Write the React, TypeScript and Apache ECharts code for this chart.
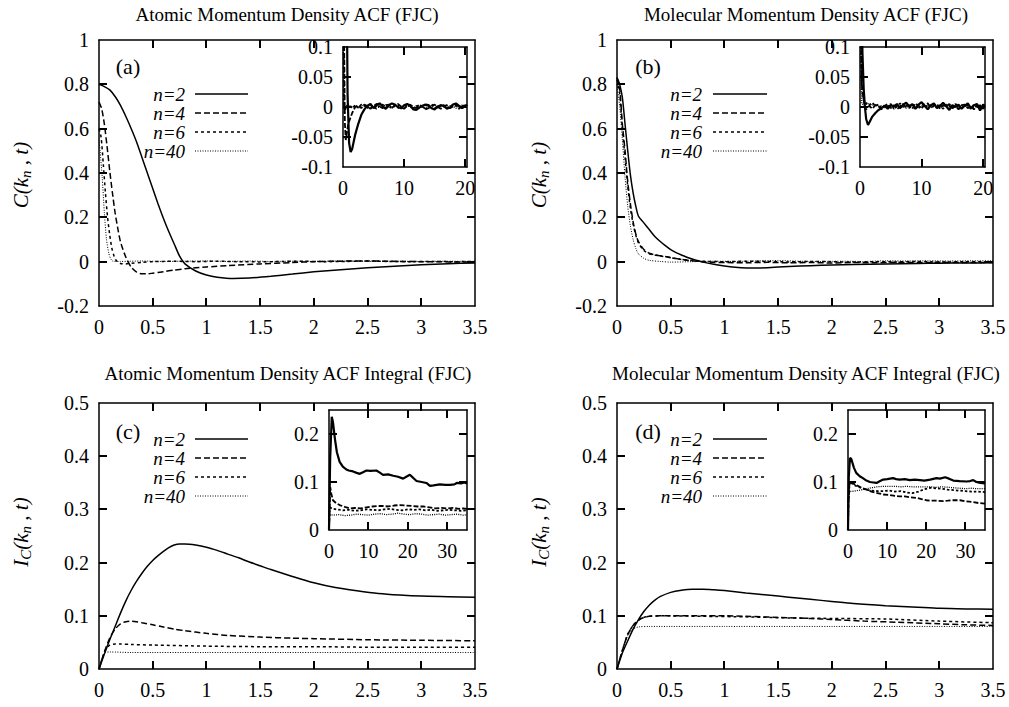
import React, { useEffect, useRef } from "react";
import * as echarts from "echarts";

type P = [number, number][];

// ---------- Panel (a): atomic ACF ----------
const A_MAIN_N2: P = [[0,0.8],[0.05,0.79],[0.1,0.775],[0.15,0.745],[0.2,0.705],[0.25,0.655],[0.3,0.6],[0.35,0.54],[0.4,0.47],[0.45,0.4],[0.5,0.33],[0.55,0.26],[0.6,0.195],[0.65,0.135],[0.7,0.08],[0.75,0.025],[0.8,-0.01],[0.9,-0.042],[1.0,-0.06],[1.1,-0.07],[1.25,-0.076],[1.4,-0.074],[1.6,-0.066],[1.8,-0.056],[2.0,-0.046],[2.25,-0.036],[2.5,-0.028],[2.75,-0.021],[3.0,-0.014],[3.25,-0.009],[3.5,-0.006]];
const A_MAIN_N4: P = [[0,0.72],[0.025,0.69],[0.05,0.62],[0.075,0.52],[0.1,0.41],[0.125,0.31],[0.15,0.22],[0.175,0.15],[0.2,0.09],[0.25,0.02],[0.3,-0.025],[0.35,-0.047],[0.4,-0.055],[0.45,-0.055],[0.5,-0.052],[0.6,-0.045],[0.7,-0.038],[0.8,-0.032],[1.0,-0.024],[1.2,-0.018],[1.5,-0.01],[1.8,-0.004],[2.0,0.0],[2.2,0.002],[2.5,0.003],[2.8,0.001],[3.0,0.0],[3.25,-0.001],[3.5,-0.002]];
const A_MAIN_N6: P = [[0,0.6],[0.02,0.56],[0.04,0.44],[0.06,0.31],[0.08,0.2],[0.1,0.12],[0.12,0.06],[0.14,0.025],[0.16,0.005],[0.2,-0.008],[0.25,-0.01],[0.3,-0.007],[0.4,-0.003],[0.5,0],[0.7,0.002],[0.9,0],[1.1,0.002],[1.3,0],[1.5,-0.001],[1.7,0.001],[1.9,0.002],[2.1,0],[2.3,0.001],[2.5,0.003],[2.7,0.001],[2.9,0],[3.1,0.001],[3.3,0],[3.5,0.001]];
const A_MAIN_N40: P = [[0,0.55],[0.01,0.5],[0.03,0.38],[0.05,0.22],[0.07,0.1],[0.09,0.04],[0.11,0.012],[0.13,0.002],[0.2,0.001],[0.4,0.003],[0.6,0.001],[0.8,0.002],[1,0.003],[1.2,0.001],[1.4,0.003],[1.6,0.001],[1.8,0.002],[2,0.001],[2.2,0.003],[2.4,0.002],[2.6,0.001],[2.8,0.002],[3,0.001],[3.2,0.002],[3.5,0.001]];

const A_IN_N2: P = [[0,0.8],[0.25,0.62],[0.5,0.33],[0.75,0.02],[1,-0.06],[1.25,-0.075],[1.5,-0.07],[2,-0.046],[2.5,-0.028],[3,-0.013],[3.5,-0.004],[4,0.002],[4.5,0.005],[5,-0.002],[5.5,0.004],[6,0.006],[6.5,0.001],[7,-0.003],[7.5,0.003],[8,0.006],[8.5,0.004],[9,0],[9.5,-0.002],[10,0.003],[10.5,0.005],[11,0.002],[11.5,-0.004],[12,-0.005],[12.5,-0.001],[13,0.002],[13.5,0.004],[14,0.003],[14.5,-0.002],[15,-0.004],[15.5,0.001],[16,0.003],[16.5,0.002],[17,-0.003],[17.5,-0.001],[18,0.004],[18.5,0.006],[19,0.002],[19.5,-0.002],[20,0.003],[20.3,0.001]];
const A_IN_N4: P = [[0,0.72],[0.1,0.41],[0.2,0.09],[0.3,-0.025],[0.45,-0.055],[0.6,-0.045],[0.8,-0.032],[1,-0.024],[1.5,-0.01],[2,0],[2.5,0.003],[3,-0.002],[3.5,0.004],[4,0.001],[4.5,-0.003],[5,0.002],[5.5,0.005],[6,0.001],[6.5,-0.002],[7,0.003],[7.5,0.004],[8,-0.001],[8.5,0.002],[9,0.005],[9.5,0.001],[10,-0.003],[10.5,0.002],[11,0.004],[11.5,0],[12,-0.002],[12.5,0.003],[13,0.001],[13.5,-0.004],[14,-0.002],[14.5,0.002],[15,0.004],[15.5,0],[16,-0.003],[16.5,0.001],[17,0.003],[17.5,-0.002],[18,0.001],[18.5,0.004],[19,0.001],[19.5,-0.002],[20,0.002],[20.3,0.003]];
const A_IN_N6: P = [[0,0.6],[0.06,0.3],[0.1,0.12],[0.16,0.005],[0.25,-0.01],[0.4,-0.003],[0.6,0.002],[1,0.004],[1.5,-0.002],[2,0.003],[2.5,-0.001],[3,0.004],[3.5,0.002],[4,-0.002],[4.5,0.003],[5,0],[5.5,-0.003],[6,0.002],[6.5,0.004],[7,0],[7.5,-0.002],[8,0.002],[8.5,0.003],[9,-0.001],[9.5,-0.003],[10,0.001],[10.5,0.004],[11,0.002],[11.5,-0.002],[12,0.001],[12.5,0.003],[13,0],[13.5,-0.003],[14,0.002],[14.5,0.004],[15,0.001],[15.5,-0.002],[16,0.002],[16.5,0.003],[17,-0.002],[17.5,0],[18,0.003],[18.5,0.002],[19,-0.003],[19.5,0.001],[20,0.004],[20.3,0.002]];
const A_IN_N40: P = [[0,0.55],[0.05,0.22],[0.09,0.04],[0.13,0],[0.3,0.002],[0.6,-0.001],[1,0.002],[1.5,0],[2,0.001],[2.5,-0.002],[3,0.002],[3.5,0.003],[4,0],[4.5,-0.002],[5,0.002],[5.5,0.001],[6,-0.001],[6.5,0.002],[7,0.003],[7.5,0],[8,-0.002],[8.5,0.001],[9,0.003],[9.5,0.001],[10,-0.001],[10.5,0.002],[11,0],[11.5,-0.002],[12,0.002],[12.5,0.003],[13,0],[13.5,-0.001],[14,0.002],[14.5,0.001],[15,-0.002],[15.5,0.001],[16,0.003],[16.5,0],[17,-0.001],[17.5,0.002],[18,0.001],[18.5,-0.002],[19,0.001],[19.5,0.003],[20,0],[20.3,0.001]];

// ---------- Panel (b): molecular ACF ----------
const B_MAIN_N2: P = [[0,0.83],[0.025,0.8],[0.05,0.74],[0.075,0.62],[0.1,0.5],[0.125,0.39],[0.15,0.31],[0.175,0.25],[0.2,0.205],[0.25,0.175],[0.3,0.145],[0.35,0.115],[0.4,0.092],[0.45,0.072],[0.5,0.054],[0.55,0.041],[0.6,0.03],[0.65,0.02],[0.7,0.012],[0.75,0.005],[0.8,-0.002],[0.9,-0.012],[1.0,-0.02],[1.1,-0.025],[1.28,-0.029],[1.4,-0.027],[1.6,-0.022],[1.8,-0.018],[2.0,-0.015],[2.2,-0.013],[2.5,-0.01],[2.8,-0.008],[3.0,-0.007],[3.25,-0.006],[3.5,-0.005]];
const B_MAIN_N4: P = [[0,0.83],[0.025,0.78],[0.05,0.62],[0.075,0.5],[0.1,0.36],[0.125,0.26],[0.15,0.18],[0.175,0.125],[0.2,0.09],[0.25,0.055],[0.3,0.038],[0.35,0.031],[0.4,0.027],[0.45,0.023],[0.5,0.018],[0.6,0.01],[0.7,0.004],[0.8,0],[0.9,-0.003],[1.0,-0.004],[1.2,-0.005],[1.4,-0.003],[1.6,-0.005],[1.8,-0.004],[2.0,-0.006],[2.2,-0.004],[2.4,-0.005],[2.6,-0.003],[2.8,-0.004],[3.0,-0.003],[3.2,-0.004],[3.5,-0.004]];
const B_MAIN_N6: P = [[0,0.82],[0.025,0.76],[0.05,0.6],[0.075,0.47],[0.1,0.34],[0.125,0.24],[0.15,0.17],[0.175,0.12],[0.2,0.085],[0.25,0.05],[0.3,0.036],[0.35,0.03],[0.4,0.026],[0.5,0.018],[0.6,0.01],[0.8,0.002],[1.0,0.0],[1.2,0.002],[1.4,0.001],[1.6,-0.001],[1.8,0.001],[2.0,0.0],[2.2,-0.002],[2.4,0.0],[2.6,-0.001],[2.8,0.001],[3.0,-0.002],[3.2,0.0],[3.5,-0.001]];
const B_MAIN_N40: P = [[0,0.8],[0.025,0.7],[0.05,0.55],[0.075,0.38],[0.1,0.25],[0.125,0.16],[0.15,0.1],[0.175,0.06],[0.2,0.035],[0.25,0.015],[0.3,0.006],[0.4,0.001],[0.5,-0.002],[0.7,0.0],[0.9,0.002],[1.1,0.001],[1.3,0.003],[1.5,0.005],[1.7,0.002],[1.9,0.001],[2.1,0.002],[2.3,0.001],[2.5,0.004],[2.7,0.003],[2.9,0.004],[3.1,0.003],[3.3,0.004],[3.5,0.004]];

const B_IN_N2: P = [[0,0.83],[0.2,0.2],[0.4,0.09],[0.6,0.03],[0.8,0.0],[1,-0.02],[1.3,-0.03],[1.6,-0.024],[2,-0.016],[2.5,-0.01],[3,-0.005],[3.5,-0.002],[4,0.002],[4.5,-0.003],[5,0.003],[5.5,0.001],[6,0.005],[6.5,-0.002],[7,0.004],[7.5,0.007],[8,0.001],[8.5,0.005],[9,-0.003],[9.5,0.004],[10,0.008],[10.5,0.002],[11,-0.004],[11.5,0.003],[12,0.006],[12.5,-0.002],[13,0.002],[13.5,0.007],[14,0.001],[14.5,-0.005],[15,0.003],[15.5,0],[16,0.004],[16.5,-0.003],[17,0.002],[17.5,0.006],[18,-0.002],[18.5,0.003],[19,0.005],[19.5,-0.006],[20,0.004],[20.3,0.002]];
const B_IN_N4: P = [[0,0.83],[0.1,0.36],[0.2,0.09],[0.3,0.038],[0.5,0.018],[0.8,0],[1,-0.004],[1.5,0.002],[2,-0.003],[2.5,0.003],[3,0.001],[3.5,-0.004],[4,0.002],[4.5,0.005],[5,-0.002],[5.5,0.003],[6,-0.004],[6.5,0.001],[7,0.005],[7.5,-0.001],[8,0.003],[8.5,-0.003],[9,0.006],[9.5,0.002],[10,-0.002],[10.5,0.004],[11,0.006],[11.5,-0.001],[12,0.002],[12.5,0.005],[13,-0.003],[13.5,0.003],[14,0.001],[14.5,0.005],[15,-0.002],[15.5,0.002],[16,-0.004],[16.5,0.003],[17,0.004],[17.5,-0.002],[18,0.002],[18.5,-0.004],[19,0.003],[19.5,0.001],[20,-0.003],[20.3,0.002]];
const B_IN_N6: P = [[0,0.82],[0.1,0.34],[0.2,0.085],[0.3,0.036],[0.5,0.018],[0.8,0.004],[1,0.006],[1.5,0.003],[2,0.007],[2.5,0.002],[3,0.004],[3.5,-0.002],[4,0.003],[4.5,0.001],[5,0.005],[5.5,-0.003],[6,0.002],[6.5,0.006],[7,0],[7.5,0.003],[8,-0.002],[8.5,0.004],[9,0.002],[9.5,-0.003],[10,0.003],[10.5,0.005],[11,-0.002],[11.5,0.002],[12,0.004],[12.5,-0.001],[13,0.003],[13.5,-0.003],[14,0.004],[14.5,0.002],[15,-0.002],[15.5,0.005],[16,0.001],[16.5,-0.002],[17,0.003],[17.5,0.002],[18,-0.003],[18.5,0.004],[19,0],[19.5,0.003],[20,-0.002],[20.3,0.001]];
const B_IN_N40: P = [[0,0.8],[0.1,0.25],[0.2,0.035],[0.3,0.006],[0.5,0.004],[1,0.007],[1.5,0.005],[2,0.003],[2.5,0.004],[3,0.001],[3.5,0.002],[4,-0.001],[4.5,0.002],[5,0],[5.5,0.003],[6,-0.001],[6.5,0.001],[7,0.002],[7.5,-0.002],[8,0.001],[8.5,0.003],[9,0],[9.5,-0.001],[10,0.002],[10.5,0],[11,0.003],[11.5,-0.001],[12,0.001],[12.5,0.002],[13,-0.002],[13.5,0.001],[14,0.002],[14.5,0],[15,-0.001],[15.5,0.002],[16,0.001],[16.5,-0.002],[17,0.001],[17.5,0.003],[18,0],[18.5,-0.001],[19,0.002],[19.5,0.001],[20,-0.001],[20.3,0.002]];

// ---------- Panel (c): atomic ACF integral ----------
const C_MAIN_N2: P = [[0,0],[0.05,0.028],[0.1,0.055],[0.15,0.08],[0.2,0.105],[0.25,0.128],[0.3,0.148],[0.35,0.165],[0.4,0.18],[0.45,0.193],[0.5,0.204],[0.55,0.213],[0.6,0.221],[0.65,0.228],[0.7,0.233],[0.75,0.235],[0.8,0.235],[0.9,0.233],[1.0,0.229],[1.1,0.223],[1.2,0.216],[1.3,0.209],[1.4,0.201],[1.5,0.194],[1.6,0.187],[1.8,0.174],[2.0,0.162],[2.2,0.153],[2.4,0.147],[2.6,0.142],[2.8,0.139],[3.0,0.137],[3.25,0.136],[3.5,0.135]];
const C_MAIN_N4: P = [[0,0],[0.05,0.032],[0.1,0.058],[0.15,0.075],[0.2,0.085],[0.25,0.089],[0.3,0.09],[0.35,0.089],[0.4,0.087],[0.5,0.083],[0.6,0.079],[0.7,0.075],[0.8,0.072],[1.0,0.067],[1.2,0.063],[1.5,0.06],[1.8,0.058],[2.0,0.057],[2.5,0.055],[3.0,0.054],[3.5,0.053]];
const C_MAIN_N6: P = [[0,0],[0.03,0.02],[0.06,0.036],[0.1,0.045],[0.15,0.047],[0.2,0.047],[0.3,0.046],[0.5,0.045],[1.0,0.043],[1.5,0.042],[2.0,0.042],[2.5,0.041],[3.0,0.041],[3.5,0.041]];
const C_MAIN_N40: P = [[0,0],[0.02,0.015],[0.04,0.026],[0.06,0.031],[0.1,0.032],[0.3,0.031],[1,0.031],[2,0.031],[3.5,0.031]];

const C_IN_N2: P = [[0,0],[0.3,0.15],[0.7,0.236],[1,0.225],[1.5,0.19],[2,0.162],[2.7,0.142],[3.5,0.132],[4.4,0.126],[5,0.124],[6.1,0.122],[7,0.119],[7.8,0.117],[8.5,0.12],[9.5,0.124],[10.5,0.123],[12,0.124],[12.8,0.12],[13.7,0.115],[15,0.116],[16.3,0.113],[17.5,0.111],[18.8,0.107],[19.6,0.111],[20.5,0.115],[21.3,0.109],[22.2,0.102],[23.5,0.1],[24.7,0.098],[25.6,0.092],[26.5,0.093],[28.1,0.095],[29.5,0.094],[30.7,0.094],[31.8,0.095],[32.4,0.098],[33.5,0.097],[34.3,0.099],[35,0.097]];
const C_IN_N4: P = [[0,0],[0.3,0.09],[0.6,0.075],[1,0.062],[1.8,0.056],[2.7,0.052],[4,0.048],[5.3,0.045],[6.5,0.046],[8,0.045],[9.5,0.047],[11,0.049],[12.5,0.05],[13.7,0.05],[15,0.049],[16.5,0.051],[18,0.052],[19.5,0.051],[21,0.05],[22.5,0.049],[24,0.049],[25.5,0.047],[27,0.045],[28.5,0.046],[30,0.045],[31.5,0.046],[33,0.044],[34,0.045],[35,0.044]];
const C_IN_N6: P = [[0,0],[0.15,0.047],[1,0.044],[2,0.043],[3.5,0.041],[5,0.042],[6.5,0.04],[8,0.041],[9.5,0.043],[11,0.042],[12.5,0.041],[14,0.043],[15.5,0.044],[17,0.042],[18.5,0.041],[20,0.043],[21.5,0.042],[23,0.043],[24.5,0.041],[26,0.042],[27.5,0.04],[29,0.041],[30.5,0.042],[32,0.041],[33.5,0.04],[35,0.041]];
const C_IN_N40: P = [[0,0],[0.1,0.032],[1,0.031],[2.5,0.032],[4,0.03],[5.5,0.031],[7,0.033],[8.5,0.032],[10,0.031],[11.5,0.033],[13,0.034],[14.5,0.032],[16,0.033],[17.5,0.035],[19,0.033],[20.5,0.032],[22,0.034],[23.5,0.033],[25,0.031],[26.5,0.032],[28,0.033],[29.5,0.031],[31,0.032],[32.5,0.033],[34,0.031],[35,0.032]];

// ---------- Panel (d): molecular ACF integral ----------
const D_MAIN_N2: P = [[0,0],[0.05,0.03],[0.1,0.053],[0.15,0.075],[0.2,0.093],[0.25,0.108],[0.3,0.12],[0.35,0.129],[0.4,0.136],[0.5,0.144],[0.6,0.148],[0.7,0.15],[0.8,0.15],[0.9,0.149],[1.0,0.1475],[1.2,0.143],[1.4,0.139],[1.6,0.135],[1.8,0.131],[2.0,0.127],[2.2,0.123],[2.5,0.119],[2.8,0.116],[3.0,0.114],[3.25,0.113],[3.5,0.1125]];
const D_MAIN_N4: P = [[0,0],[0.05,0.035],[0.1,0.065],[0.15,0.082],[0.2,0.092],[0.25,0.097],[0.3,0.099],[0.4,0.1],[0.6,0.1],[0.8,0.1],[1.0,0.1],[1.2,0.099],[1.5,0.097],[1.8,0.095],[2.0,0.093],[2.3,0.09],[2.6,0.088],[3.0,0.085],[3.25,0.083],[3.5,0.082]];
const D_MAIN_N6: P = [[0,0],[0.05,0.035],[0.1,0.065],[0.15,0.082],[0.2,0.092],[0.25,0.097],[0.3,0.099],[0.4,0.1],[0.8,0.099],[1.2,0.098],[1.6,0.096],[2.0,0.095],[2.5,0.094],[3.0,0.09],[3.5,0.087]];
const D_MAIN_N40: P = [[0,0],[0.05,0.035],[0.1,0.063],[0.15,0.075],[0.2,0.079],[0.3,0.08],[1,0.08],[2,0.08],[3,0.08],[3.5,0.08]];

const D_IN_N2: P = [[0,0],[0.2,0.11],[0.5,0.15],[0.85,0.148],[1.5,0.13],[2.1,0.119],[3,0.112],[3.8,0.108],[4.7,0.103],[5.6,0.1],[6.5,0.099],[7.3,0.098],[8.2,0.102],[9,0.105],[10,0.106],[11.5,0.108],[12.3,0.106],[13.2,0.105],[14.5,0.106],[15.8,0.104],[17,0.105],[18.4,0.104],[19.5,0.103],[21,0.105],[22.6,0.108],[23.5,0.107],[24.8,0.11],[25.8,0.107],[26.9,0.103],[28.5,0.102],[30.3,0.101],[31.2,0.102],[32,0.104],[32.8,0.1],[33.8,0.098],[35,0.097]];
const D_IN_N4: P = [[0,0],[0.1,0.06],[0.4,0.1],[1.5,0.096],[3,0.09],[4.7,0.084],[6,0.08],[7.5,0.077],[9,0.074],[10.5,0.073],[12,0.071],[13.2,0.07],[14.5,0.07],[16,0.068],[17.5,0.067],[19,0.064],[20,0.062],[21,0.061],[22.5,0.061],[24.4,0.06],[25.5,0.061],[26.5,0.062],[28.6,0.062],[30,0.06],[31,0.059],[32,0.058],[33.5,0.056],[35,0.055]];
const D_IN_N6: P = [[0,0],[0.1,0.06],[0.4,0.1],[2,0.092],[3.5,0.087],[4.7,0.084],[6,0.082],[7.5,0.081],[9,0.081],[10.5,0.082],[12,0.08],[13.5,0.081],[15,0.078],[16.5,0.077],[18,0.08],[19.5,0.085],[21,0.088],[22.5,0.087],[24,0.086],[25.5,0.084],[27,0.083],[28.5,0.082],[30,0.081],[31.5,0.08],[33,0.08],[35,0.079]];
const D_IN_N40: P = [[0,0],[0.1,0.06],[0.3,0.08],[1.5,0.081],[3,0.083],[4.7,0.086],[6,0.088],[7.5,0.09],[9,0.091],[10.5,0.091],[12,0.091],[13.5,0.09],[15,0.091],[16.5,0.09],[18,0.09],[19.5,0.09],[21,0.09],[22.5,0.089],[24,0.09],[25.5,0.089],[27,0.088],[28.5,0.087],[30,0.086],[31.5,0.087],[33,0.086],[35,0.086]];

// ---------- labels ----------
const SERIES_NAMES = ["n=2", "n=4", "n=6", "n=40"];
const TITLES = [
  "Atomic Momentum Density ACF (FJC)",
  "Molecular Momentum Density ACF (FJC)",
  "Atomic Momentum Density ACF Integral (FJC)",
  "Molecular Momentum Density ACF Integral (FJC)",
];
const PANEL_TAGS = ["(a)", "(b)", "(c)", "(d)"];

// axis ranges: [min, max, interval]
const ACF_MAIN_X = [0, 3.5, 0.5];
const ACF_MAIN_Y = [-0.2, 1, 0.2];
const ACF_IN_X = [0, 20.3, 10];
const ACF_IN_Y = [-0.1, 0.1, 0.05];
const INT_MAIN_X = [0, 3.5, 0.5];
const INT_MAIN_Y = [0, 0.5, 0.1];
const INT_IN_X = [0, 35, 10];
const INT_IN_Y = [0, 0.25, 0.1];

const FAMILY = "Liberation Serif";
const FF = "'Liberation Serif', 'Times New Roman', serif";
const TICK_LEN = 8;

type Rect = { left: number; top: number; width: number; height: number };

// layout
const PANELS = [
  { main: { left: 99, top: 40, width: 376, height: 266 }, inset: { left: 343, top: 47, width: 124, height: 120 },
    mx: ACF_MAIN_X, my: ACF_MAIN_Y, ix: ACF_IN_X, iy: ACF_IN_Y,
    mainData: [A_MAIN_N2, A_MAIN_N4, A_MAIN_N6, A_MAIN_N40], inData: [A_IN_N2, A_IN_N4, A_IN_N6, A_IN_N40],
    titleX: 287, titleY: 14, tagX: 128, tagY: 66, legX: 185, legL: 195, legR: 248, legY: 94,
    yTitleX: 21, yTitleY: 175, integral: false },
  { main: { left: 617, top: 40, width: 376, height: 266 }, inset: { left: 860, top: 47, width: 125, height: 120 },
    mx: ACF_MAIN_X, my: ACF_MAIN_Y, ix: ACF_IN_X, iy: ACF_IN_Y,
    mainData: [B_MAIN_N2, B_MAIN_N4, B_MAIN_N6, B_MAIN_N40], inData: [B_IN_N2, B_IN_N4, B_IN_N6, B_IN_N40],
    titleX: 806, titleY: 14, tagX: 648, tagY: 66, legX: 702, legL: 713, legR: 767, legY: 94,
    yTitleX: 539, yTitleY: 175, integral: false },
  { main: { left: 99, top: 403, width: 376, height: 266 }, inset: { left: 329, top: 410, width: 138, height: 120 },
    mx: INT_MAIN_X, my: INT_MAIN_Y, ix: INT_IN_X, iy: INT_IN_Y,
    mainData: [C_MAIN_N2, C_MAIN_N4, C_MAIN_N6, C_MAIN_N40], inData: [C_IN_N2, C_IN_N4, C_IN_N6, C_IN_N40],
    titleX: 288, titleY: 373, tagX: 128, tagY: 431, legX: 185, legL: 195, legR: 248, legY: 439,
    yTitleX: 21, yTitleY: 532, integral: true },
  { main: { left: 617, top: 403, width: 376, height: 266 }, inset: { left: 848, top: 410, width: 137, height: 120 },
    mx: INT_MAIN_X, my: INT_MAIN_Y, ix: INT_IN_X, iy: INT_IN_Y,
    mainData: [D_MAIN_N2, D_MAIN_N4, D_MAIN_N6, D_MAIN_N40], inData: [D_IN_N2, D_IN_N4, D_IN_N6, D_IN_N40],
    titleX: 806, titleY: 373, tagX: 648, tagY: 431, legX: 702, legL: 713, legR: 767, legY: 439,
    yTitleX: 539, yTitleY: 532, integral: true },
];

const MAIN_STYLES = [
  { width: 1.5, type: "solid" as any },
  { width: 1.5, type: [6, 3] as any },
  { width: 1.5, type: [3, 3] as any },
  { width: 1, type: [1, 1.5] as any },
];
const INSET_STYLES = [
  { width: 2.2, type: "solid" as any },
  { width: 1.8, type: [5, 2] as any },
  { width: 1.8, type: [2.5, 2] as any },
  { width: 1.3, type: [1, 1.2] as any },
];
const LEGEND_DASH: any[] = [null, [6, 3], [3, 3], [1, 1.5]];
const LEGEND_WIDTH = [1.5, 1.5, 1.5, 1];

function fmt(interval: number) {
  return (v: number) => {
    const r = v / interval;
    if (Math.abs(r - Math.round(r)) > 1e-6) return "";
    return String(parseFloat(v.toFixed(4)));
  };
}

function tickValues(r: number[]) {
  const out: number[] = [];
  const n = Math.floor((r[1] - r[0]) / r[2] + 1e-9);
  for (let k = 1; k <= n; k++) {
    const v = r[0] + k * r[2];
    if (v < r[1] - 1e-9) out.push(v);
  }
  return out;
}

// inward ticks on all four sides of a frame, positioned on the axis scale
function frameTicks(rect: Rect, xr: number[], yr: number[]) {
  const out: any[] = [];
  const st = { stroke: "#000", lineWidth: 2 };
  const x0 = rect.left, x1 = rect.left + rect.width, y0 = rect.top, y1 = rect.top + rect.height;
  const sx = (v: number) => x0 + ((v - xr[0]) / (xr[1] - xr[0])) * rect.width;
  const sy = (v: number) => y1 - ((v - yr[0]) / (yr[1] - yr[0])) * rect.height;
  tickValues(xr).forEach((v) => {
    const px = Math.round(sx(v));
    out.push({ type: "rect", z: 100, silent: true, shape: { x: px - 1, y: y1 - TICK_LEN, width: 2, height: TICK_LEN }, style: { fill: "#000" } });
    out.push({ type: "rect", z: 100, silent: true, shape: { x: px - 1, y: y0, width: 2, height: TICK_LEN }, style: { fill: "#000" } });
  });
  tickValues(yr).forEach((v) => {
    const py = Math.round(sy(v));
    out.push({ type: "rect", z: 100, silent: true, shape: { x: x0, y: py - 1, width: TICK_LEN, height: 2 }, style: { fill: "#000" } });
    out.push({ type: "rect", z: 100, silent: true, shape: { x: x1 - TICK_LEN, y: py - 1, width: TICK_LEN, height: 2 }, style: { fill: "#000" } });
  });
  void st;
  return out;
}

function makeAxes(gi: number, xr: number[], yr: number[]) {
  const common = {
    gridIndex: gi,
    type: "value",
    axisLine: { show: true, onZero: false, lineStyle: { color: "#000", width: 1.5 } },
    splitLine: { show: false },
    axisTick: { show: false },
  };
  const lbl = { color: "#000", fontFamily: FAMILY, fontSize: 20 };
  const xs = [
    { ...common, position: "bottom", min: xr[0], max: xr[1], interval: xr[2],
      axisLabel: { ...lbl, margin: 11, formatter: fmt(xr[2]), showMinLabel: true, showMaxLabel: true, hideOverlap: false } },
    { ...common, position: "top", min: xr[0], max: xr[1], interval: xr[2], axisLabel: { show: false } },
  ];
  const ys = [
    { ...common, position: "left", min: yr[0], max: yr[1], interval: yr[2],
      axisLabel: { ...lbl, margin: 10, formatter: fmt(yr[2]), showMinLabel: true, showMaxLabel: true, hideOverlap: false } },
    { ...common, position: "right", min: yr[0], max: yr[1], interval: yr[2], axisLabel: { show: false } },
  ];
  return { xs, ys };
}

export default function App() {
  const ref = useRef<HTMLDivElement>(null);
  useEffect(() => {
    if (!ref.current) return;
    const chart = echarts.init(ref.current, undefined, { renderer: "svg", width: 1009, height: 707 });
    const ctx = document.createElement("canvas").getContext("2d")!;
    const tw = (t: string, size: number) => {
      ctx.font = `italic ${size}px ${FF}`;
      return ctx.measureText(t).width;
    };

    const grids: any[] = [];
    const xAxes: any[] = [];
    const yAxes: any[] = [];
    const series: any[] = [];
    const graphics: any[] = [];

    PANELS.forEach((p, pi) => {
      const gMain = grids.length;
      grids.push({ ...p.main, show: false, containLabel: false, outerBoundsMode: "none" });
      const gIn = grids.length;
      grids.push({ ...p.inset, show: true, borderWidth: 0, borderColor: "transparent", backgroundColor: "#fff", containLabel: false, outerBoundsMode: "none" });
      const a1 = makeAxes(gMain, p.mx, p.my);
      const a2 = makeAxes(gIn, p.ix, p.iy);
      const xMain = xAxes.length; xAxes.push(...a1.xs);
      const yMain = yAxes.length; yAxes.push(...a1.ys);
      const xIn = xAxes.length; xAxes.push(...a2.xs);
      const yIn = yAxes.length; yAxes.push(...a2.ys);

      p.mainData.forEach((d, si) => {
        series.push({
          type: "line", name: SERIES_NAMES[si], xAxisIndex: xMain, yAxisIndex: yMain, data: d,
          showSymbol: false, symbol: "none", smooth: 0.25, clip: true, silent: true,
          lineStyle: { color: "#000", width: MAIN_STYLES[si].width, type: MAIN_STYLES[si].type },
          z: 3,
        });
      });
      p.inData.forEach((d, si) => {
        series.push({
          type: "line", name: SERIES_NAMES[si], xAxisIndex: xIn, yAxisIndex: yIn, data: d,
          showSymbol: false, symbol: "none", smooth: false, clip: true, silent: true,
          lineStyle: { color: "#000", width: INSET_STYLES[si].width, type: INSET_STYLES[si].type },
          z: 4,
        });
      });

      graphics.push(...frameTicks(p.main, p.mx, p.my));
      graphics.push(...frameTicks(p.inset, p.ix, p.iy));

      graphics.push({
        type: "text", x: p.titleX, y: p.titleY, silent: true,
        style: { text: TITLES[pi], font: `19px ${FF}`, fill: "#000", align: "center", verticalAlign: "middle", textAlign: "center", textVerticalAlign: "middle" },
      });
      graphics.push({
        type: "text", x: p.tagX, y: p.tagY, silent: true,
        style: { text: PANEL_TAGS[pi], font: `22px ${FF}`, fill: "#000", align: "center", verticalAlign: "middle", textAlign: "center", textVerticalAlign: "middle" },
      });
      SERIES_NAMES.forEach((nm, si) => {
        const y = p.legY + si * 19;
        graphics.push({
          type: "text", x: p.legX, y, silent: true,
          style: { text: nm, font: `italic 19px ${FF}`, fill: "#000", align: "right", verticalAlign: "middle", textAlign: "right", textVerticalAlign: "middle" },
        });
        const ls: any = { stroke: "#000", lineWidth: LEGEND_WIDTH[si] };
        if (LEGEND_DASH[si]) ls.lineDash = LEGEND_DASH[si];
        graphics.push({ type: "line", silent: true, shape: { x1: p.legL, y1: y, x2: p.legR, y2: y }, style: ls });
      });
      const parts = p.integral
        ? [{ t: "I", s: 21, dy: 0 }, { t: "C", s: 15, dy: 5 }, { t: "(k", s: 21, dy: 0 }, { t: "n", s: 15, dy: 5 }, { t: " , t)", s: 21, dy: 0 }]
        : [{ t: "C(k", s: 21, dy: 0 }, { t: "n", s: 15, dy: 5 }, { t: " , t)", s: 21, dy: 0 }];
      const widths = parts.map((q) => tw(q.t, q.s));
      const total = widths.reduce((a, b) => a + b, 0);
      let cx = -total / 2;
      const children = parts.map((q, i) => {
        const el = {
          type: "text", x: cx, y: q.dy, silent: true,
          style: { text: q.t, font: `italic ${q.s}px ${FF}`, fill: "#000", align: "left", verticalAlign: "middle", textAlign: "left", textVerticalAlign: "middle" },
        };
        cx += widths[i];
        return el;
      });
      graphics.push({ type: "group", x: p.yTitleX, y: p.yTitleY, rotation: Math.PI / 2, children });
    });

    chart.setOption({
      animation: false,
      backgroundColor: "#fff",
      textStyle: { fontFamily: FAMILY },
      grid: grids,
      xAxis: xAxes,
      yAxis: yAxes,
      series,
      graphic: { elements: graphics },
    });

    return () => chart.dispose();
  }, []);
  return <div ref={ref} style={{ position: "absolute", left: 0, top: 0, width: 1009, height: 707 }} />;
}
